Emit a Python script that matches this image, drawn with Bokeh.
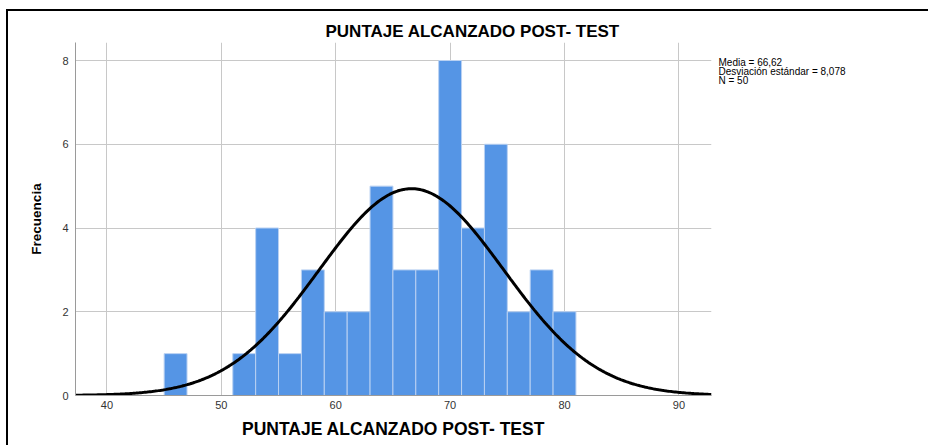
import numpy as np
from bokeh.plotting import figure
from bokeh.models import FixedTicker, Range1d, LinearAxis
from bokeh.embed import file_html
from bokeh.resources import INLINE

# Data (bin width 2)
bin_left = [45, 51, 53, 55, 57, 59, 61, 63, 65, 67, 69, 71, 73, 75, 77, 79]
counts = [1, 1, 4, 1, 3, 2, 2, 5, 3, 3, 8, 4, 6, 2, 3, 2]
bin_width = 2
mean_val = 66.62
sd_val = 8.078
n_val = 50
x_ticks = [40, 50, 60, 70, 80, 90]
y_ticks = [0, 2, 4, 6, 8]
title_text = "PUNTAJE ALCANZADO POST- TEST"
y_label_text = "Frecuencia"
stats_lines = ["Media = 66,62", "Desviación estándar = 8,078", "N = 50"]

FONT = "Liberation Sans"
OX, OY = 8, 11          # canvas origin on the page (margin + 2px frame border)
W, H = 922, 436
FL, FT, FR, FB = 75 - OX, 42 - OY, 711 - OX, 395 - OY   # plot frame in canvas px

p = figure(width=W, height=H, output_backend="svg", toolbar_location=None,
           x_range=Range1d(37.25, 92.85), y_range=Range1d(0, 8.43),
           min_border_left=FL, min_border_right=W - FR, min_border_top=FT,
           min_border_bottom=H - FB)
p.outline_line_color = None
p.background_fill_color = "white"
p.border_fill_color = "white"
p.styles = {"border-left": "2px solid black", "border-top": "2px solid black",
            "margin-left": "6px", "margin-top": "9px"}

# title
p.title.text = title_text
p.title.align = "left"
p.title.offset = 325 - 75
p.title.text_font = FONT
p.title.text_font_size = "17px"
p.title.text_font_style = "bold"
p.title.text_color = "black"
p.title.standoff = 4

# bars
rights = [b + bin_width for b in bin_left]
p.quad(left=bin_left, right=rights, bottom=0, top=counts,
       fill_color="#5595e5", line_color="#b9d1f2", line_width=1)

# fitted normal curve from stated mean / sd / N
xs = np.linspace(37.25, 92.85, 400)
ys = n_val * bin_width * np.exp(-0.5 * ((xs - mean_val) / sd_val) ** 2) / (sd_val * np.sqrt(2 * np.pi))
p.line(xs, ys, line_color="black", line_width=3)

# axes
for ax in (p.xaxis, p.yaxis):
    ax.axis_line_color = "#9a9a9a"
    ax.axis_line_width = 1
    ax.major_tick_line_color = None
    ax.minor_tick_line_color = None
    ax.major_tick_out = 0
    ax.major_tick_in = 0
    ax.minor_tick_out = 0
    ax.major_label_text_font = FONT
    ax.major_label_text_font_size = "11px"
    ax.major_label_text_color = "#333333"
    ax.axis_label_text_font = FONT
    ax.axis_label_text_font_style = "bold"
    ax.axis_label_text_color = "black"
p.xaxis.ticker = FixedTicker(ticks=x_ticks)
p.yaxis.ticker = FixedTicker(ticks=y_ticks)
p.xaxis.major_label_standoff = 5
p.yaxis.major_label_standoff = 7
p.xaxis.axis_label = title_text
p.xaxis.axis_label_text_font_size = "17.5px"
p.xaxis.axis_label_standoff = 7
p.yaxis.axis_label = y_label_text
p.yaxis.axis_label_text_font_size = "13.5px"
p.yaxis.axis_label_standoff = 15

p.xgrid.ticker = FixedTicker(ticks=x_ticks)
p.ygrid.ticker = FixedTicker(ticks=y_ticks)
p.xgrid.grid_line_color = "#c8c8c8"
p.ygrid.grid_line_color = "#c8c8c8"

# statistics block on the right: tick-less right axis on a pixel range,
# one overridden tick label per line (measured in px above the frame bottom)
p.extra_y_ranges = {"px": Range1d(0, FB - FT)}
stats_pos = [FB - (62 - OY), FB - (71 - OY), FB - (80 - OY)]
stats = LinearAxis(y_range_name="px", ticker=FixedTicker(ticks=stats_pos),
                   major_label_overrides={k: s for k, s in zip(stats_pos, stats_lines)},
                   axis_line_color=None, major_tick_line_color=None,
                   minor_tick_line_color=None, major_tick_out=0, major_tick_in=0,
                   minor_tick_out=0, major_label_standoff=7,
                   major_label_text_font=FONT,
                   major_label_text_font_size="10px",
                   major_label_text_color="black")
p.add_layout(stats, "right")

open("out.html", "w").write(file_html(p, INLINE))
